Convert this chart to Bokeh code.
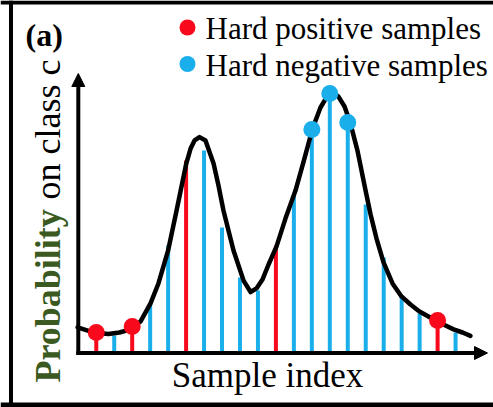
import math
from bokeh.plotting import figure
from bokeh.models import Range1d, Label, Arrow, NormalHead, Span, ColumnDataSource
from bokeh.embed import file_html
from bokeh.resources import INLINE

# ---------------- data ----------------
sample_index = list(range(1, 22))
probability = [0.079, 0.067, 0.102, 0.191, 0.414, 0.742, 0.780, 0.484, 0.291, 0.241,
               0.414, 0.607, 0.861, 1.000, 0.888, 0.572, 0.368, 0.222, 0.152, 0.125, 0.079]
sample_class = ["positive", "negative", "positive", "negative", "negative", "positive",
                "negative", "negative", "negative", "negative", "positive", "negative",
                "negative", "negative", "negative", "negative", "negative", "negative",
                "negative", "positive", "negative"]
hard_sample = [1, 0, 1, 0, 0, 0, 0, 0, 0, 0, 0, 0, 1, 1, 1, 0, 0, 0, 0, 1, 0]

curve_index = [-0.04, 0.57, 1.12, 1.68, 2.29, 2.91, 3.46, 4.02, 4.46, 5.00, 5.47, 6.01,
               6.25, 6.47, 6.75, 7.08, 7.53, 7.80, 8.08, 8.64, 9.20, 9.59, 9.92, 10.25,
               10.59, 11.03, 11.53, 12.09, 12.59, 13.04, 13.48, 13.82, 14.15, 14.48,
               14.82, 15.15, 15.54, 15.99, 16.27, 16.60, 16.99, 17.49, 17.99, 18.49,
               18.99, 19.49, 20.00, 20.44, 20.89, 21.39, 21.83]
curve_prob = [0.099, 0.085, 0.077, 0.073, 0.079, 0.091, 0.121, 0.191, 0.268, 0.395, 0.549,
              0.730, 0.788, 0.819, 0.832, 0.819, 0.730, 0.646, 0.549, 0.395, 0.279, 0.235,
              0.249, 0.283, 0.341, 0.410, 0.518, 0.626, 0.750, 0.865, 0.946, 0.985, 1.000,
              0.988, 0.950, 0.884, 0.780, 0.626, 0.534, 0.441, 0.349, 0.268, 0.218, 0.187,
              0.160, 0.141, 0.121, 0.106, 0.091, 0.079, 0.066]

legend_labels = ["Hard positive samples", "Hard negative samples"]
legend_classes = ["positive", "negative"]
x_label = "Sample index"
y_label_bold = "Probability"
y_label_rest = "on class c"
panel_label = "(a)"

# ---------------- styles / layout ----------------
W, H = 493, 407
RED = "#F80A1C"
BLUE = "#1AAFEB"
GREEN = "#3A5A22"
FONT = "Liberation Serif"
SHIFT = 0.33  # em: correction of where the label text sits relative to its anchor
class_color = {"positive": RED, "negative": BLUE}

# pixel mapping of the drawing area (index 0 / probability 0 at the axes' corner)
X0, DX = 77.8, 17.965
Y0, DY = 352.5, 259.5


def sx(px):
    return (px - X0) / DX


def sy(py):
    return (Y0 - py) / DY


p = figure(width=W, height=H,
           x_range=Range1d(sx(0), sx(W)), y_range=Range1d(sy(H), sy(0)),
           output_backend="svg", toolbar_location=None,
           x_axis_location=None, y_axis_location=None,
           min_border=0, outline_line_color=None)
p.background_fill_color = "white"
p.border_fill_color = "white"
p.xgrid.visible = False
p.ygrid.visible = False

# stems
stems = ColumnDataSource(dict(x=sample_index, top=probability,
                              color=[class_color[c] for c in sample_class]))
p.segment(x0="x", y0=0, x1="x", y1="top", source=stems,
          line_color="color", line_width=4, line_cap="butt")

# probability curve
p.line(curve_index, curve_prob, line_color="black", line_width=4.5,
       line_join="round", line_cap="round")

# hard samples
hx = [x for x, h in zip(sample_index, hard_sample) if h]
hy = [y for y, h in zip(probability, hard_sample) if h]
hc = [class_color[c] for c, h in zip(sample_class, hard_sample) if h]
p.scatter(hx, hy, size=17, fill_color=hc, line_color=None)

# axes with arrow heads
p.add_layout(Arrow(end=NormalHead(size=13, fill_color="black", line_color="black", line_width=1),
                   x_start=sx(75.8), y_start=0, x_end=sx(487), y_end=0,
                   line_width=4, line_color="black"))
p.add_layout(Arrow(end=NormalHead(size=13, fill_color="black", line_color="black", line_width=1),
                   x_start=0, y_start=sy(354.5), x_end=0, y_end=sy(73),
                   line_width=4, line_color="black"))


def hlabel(px, py, text, size, **kw):
    p.add_layout(Label(x=sx(px), y=sy(py - SHIFT * size), text=text,
                       text_baseline="alphabetic", text_font=FONT,
                       text_font_size=f"{size}px", **kw))


def vlabel(px, py, text, size, **kw):
    p.add_layout(Label(x=sx(px - SHIFT * size), y=sy(py), text=text, angle=math.pi / 2,
                       text_align="left", text_baseline="alphabetic", text_font=FONT,
                       text_font_size=f"{size}px", **kw))


# axis labels
hlabel(267, 387, x_label, 35, text_align="center", text_color="black")
vlabel(59, 382, y_label_bold, 36, text_font_style="bold", text_color=GREEN)
vlabel(59, 199, y_label_rest, 36, text_color="black")

# panel label
hlabel(25, 45.5, panel_label, 32, text_align="left", text_font_style="bold",
       text_color="black")

# legend
leg_rows = [27, 63.5]
p.scatter([sx(187)] * 2, [sy(r) for r in leg_rows], size=16,
          fill_color=[class_color[c] for c in legend_classes], line_color=None)
for lab, r in zip(legend_labels, leg_rows):
    hlabel(205, r + 11.5, lab, 31, text_align="left", text_color="black")

# picture frame
p.add_layout(Span(location=sy(2), dimension="width", line_color="black", line_width=4))
p.add_layout(Span(location=sy(404.5), dimension="width", line_color="black", line_width=5))
p.add_layout(Span(location=sx(10.5), dimension="height", line_color="black", line_width=4))

open("out.html", "w").write(file_html(p, INLINE))
